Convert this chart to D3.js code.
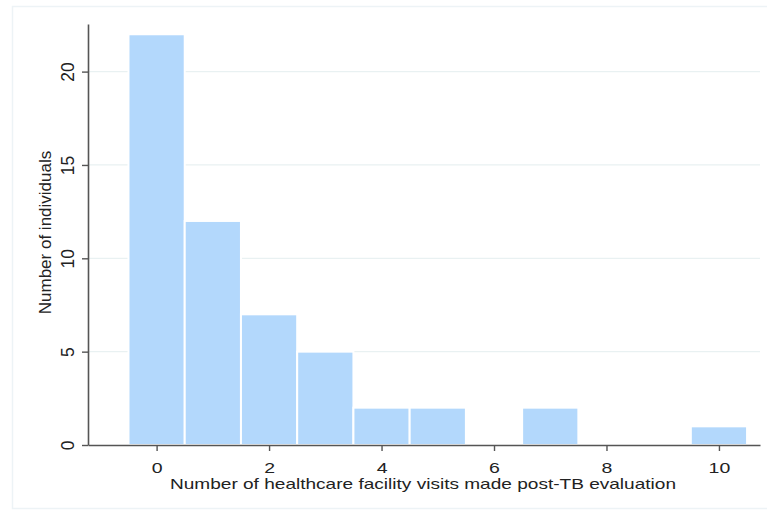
<!DOCTYPE html>
<html>
<head>
<meta charset="utf-8">
<script src="https://cdn.jsdelivr.net/npm/d3@7"></script>
<style>
body { margin: 0; background: #fff; }
text { font-family: Arial, "Liberation Sans", sans-serif; fill: #222; }
</style>
</head>
<body>
<div id="chart"></div>
<script>
// histogram data: visits -> count
var visits = [0, 1, 2, 3, 4, 5, 6, 7, 8, 9, 10];
var counts = [22, 12, 7, 5, 2, 2, 0, 2, 0, 0, 1];
var xTicks = [0, 2, 4, 6, 8, 10];
var yTicks = [0, 5, 10, 15, 20];

var width = 767, height = 510;
var margin = {top: 24, right: 7, bottom: 65, left: 88};

var svg = d3.select("#chart")
  .append("svg")
  .attr("width", width)
  .attr("height", height);

// faint outer frame
svg.append("rect")
  .attr("x", 12.5).attr("y", 6.5)
  .attr("width", width).attr("height", 502)
  .attr("fill", "none")
  .attr("stroke", "#edf3f6")
  .attr("stroke-width", 1.5);

var g = svg.append("g")
  .attr("transform", "translate(" + margin.left + "," + margin.top + ")");

var w = width - margin.left - margin.right;
var h = height - margin.top - margin.bottom;

var x = d3.scaleLinear()
  .domain([-1.22, 10.73])
  .range([0, w]);

var y = d3.scaleLinear()
  .domain([0, 22.55])
  .range([h, 0]);

// grid
g.selectAll(".grid")
  .data(yTicks.slice(1))
  .enter().append("line")
  .attr("x1", 0).attr("x2", w)
  .attr("y1", function(d) { return y(d); })
  .attr("y2", function(d) { return y(d); })
  .attr("stroke", "#e9f1f2")
  .attr("stroke-width", 1.2);

// bars
g.selectAll(".bar")
  .data(visits)
  .enter().append("rect")
  .filter(function(d, i) { return counts[i] > 0; })
  .attr("x", function(d) { return x(d - 0.5); })
  .attr("width", function(d) { return x(d + 0.5) - x(d - 0.5); })
  .attr("y", function(d) { return y(counts[visits.indexOf(d)]); })
  .attr("height", function(d) { return h - y(counts[visits.indexOf(d)]); })
  .attr("fill", "#b3d8fc")
  .attr("stroke", "#ffffff")
  .attr("stroke-width", 2);

// axes
var xAxis = g.append("g")
  .attr("transform", "translate(0," + h + ")")
  .call(d3.axisBottom(x).tickValues(xTicks).tickSize(6).tickSizeOuter(0));
var yAxis = g.append("g")
  .call(d3.axisLeft(y).tickValues(yTicks).tickSize(6).tickSizeOuter(0));

[xAxis, yAxis].forEach(function(a) {
  a.select(".domain").attr("stroke", "#555").attr("stroke-width", 1.6);
  a.selectAll(".tick line").attr("stroke", "#555").attr("stroke-width", 1.4);
  a.selectAll("text").attr("fill", "#222")
    .style("font-family", "Arial, 'Liberation Sans', sans-serif");
});

xAxis.selectAll(".tick text")
  .style("font-size", "15px")
  .attr("y", 0).attr("dy", 0)
  .attr("transform", "translate(0,28) scale(1.3,1)");

yAxis.selectAll(".tick text")
  .style("font-size", "17.5px")
  .attr("transform", "rotate(-90)")
  .attr("x", 0).attr("y", -14)
  .attr("text-anchor", "middle")
  .attr("dy", "0");

// axis titles
svg.append("text")
  .attr("x", 423)
  .attr("y", 489)
  .attr("text-anchor", "middle")
  .attr("textLength", 506)
  .attr("lengthAdjust", "spacingAndGlyphs")
  .style("font-size", "14.5px")
  .text("Number of healthcare facility visits made post-TB evaluation");

svg.append("text")
  .attr("transform", "translate(51,232.5) rotate(-90)")
  .attr("text-anchor", "middle")
  .style("font-size", "17px")
  .text("Number of individuals");
</script>
</body>
</html>
